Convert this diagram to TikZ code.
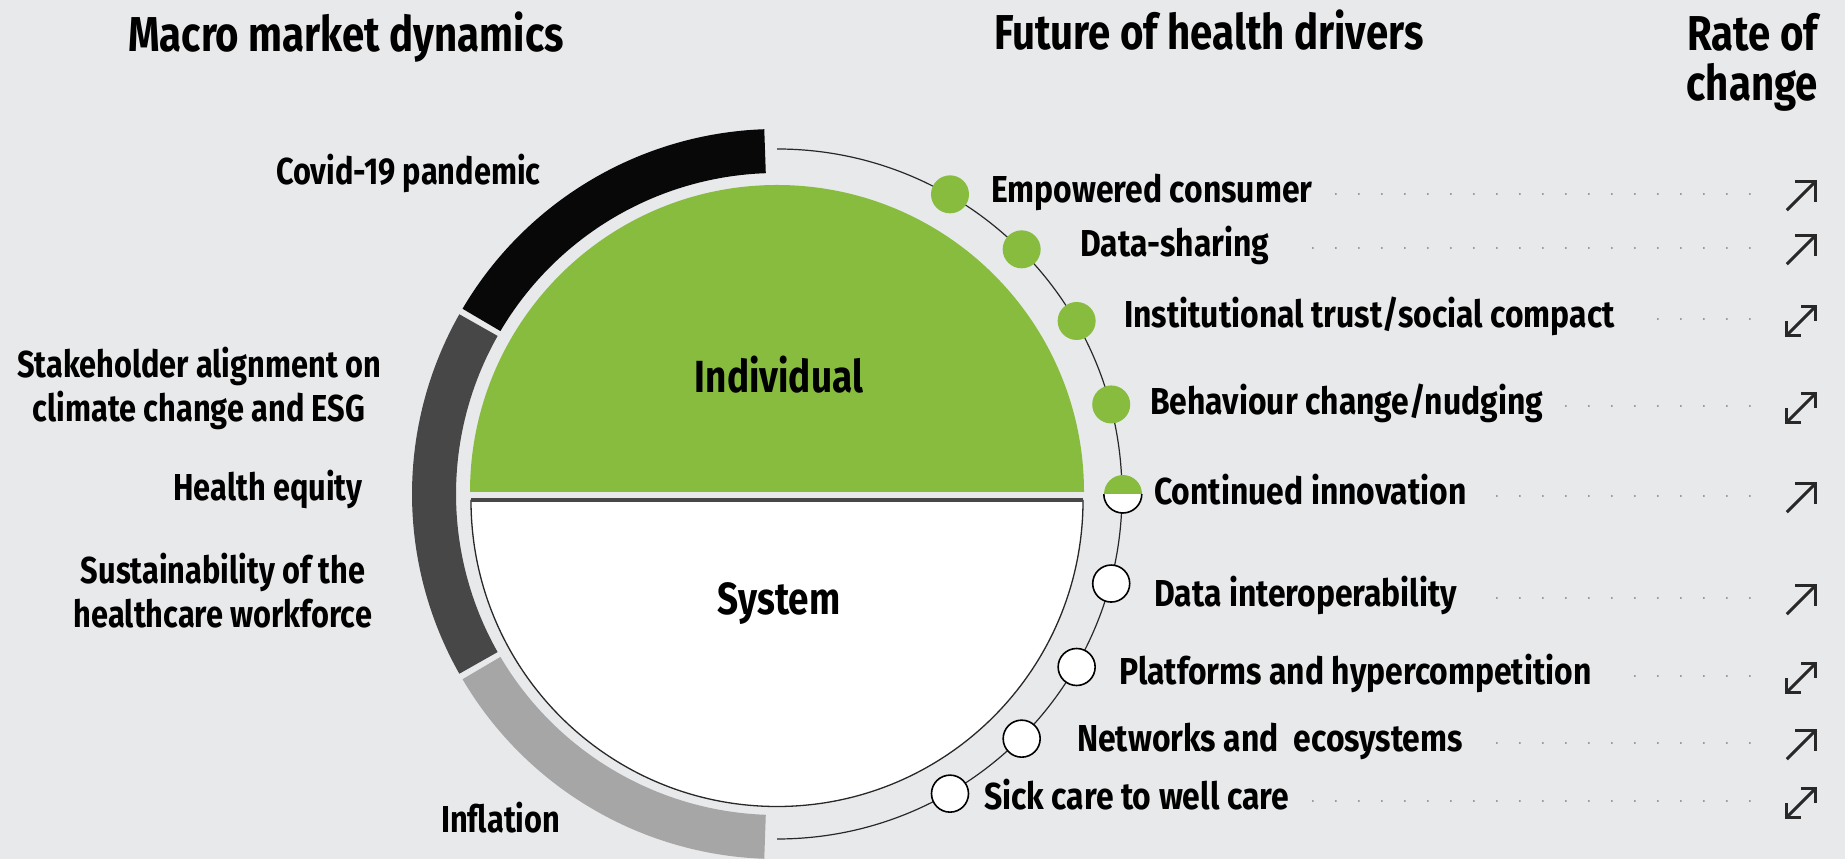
\documentclass[tikz,border=0pt]{standalone}
\usepackage{fontspec}
\setmainfont{Fira Sans}[FakeStretch=0.82]
\newfontfamily\driverfont{Fira Sans}[FakeStretch=0.85]
\usetikzlibrary{calc}
\definecolor{bgpaper}{RGB}{232,233,235}
\definecolor{hgreen}{RGB}{135,188,63}
\definecolor{ringblack}{RGB}{8,8,8}
\definecolor{ringdark}{RGB}{71,71,71}
\definecolor{ringlight}{RGB}{166,166,166}
\definecolor{inkgrey}{RGB}{40,40,40}
\newcommand{\rateup}[1]{%
  \draw[rise] (#1.south west) -- (#1.north east);
  \draw[rise] ([xshift=-20pt]#1.north east) -- (#1.north east) -- ([yshift=-20pt]#1.north east);}
\newcommand{\ratebi}[1]{%
  \draw[rise] (#1.south west) -- (#1.north east);
  \draw[rise] ([xshift=-14pt]#1.north east) -- (#1.north east) -- ([yshift=-14pt]#1.north east);
  \draw[rise] ([xshift=14pt]#1.south west) -- (#1.south west) -- ([yshift=14pt]#1.south west);}

\begin{document}
\begin{tikzpicture}[x=1pt, y=1pt,
    heading/.style = {font=\fontsize{49}{50}\selectfont\bfseries, inner sep=0},
    macro/.style = {font=\fontsize{37.5}{44}\selectfont\bfseries, inner sep=0, align=center},
    driver/.style = {font=\driverfont\fontsize{37.5}{44}\selectfont\bfseries, inner sep=0,
        text height=26pt, text depth=8pt, anchor=base west},
    half/.style = {font=\fontsize{45}{50}\selectfont\bfseries, inner sep=0, anchor=base},
    greendot/.style = {circle, fill=hgreen, minimum size=38pt, inner sep=0},
    whitedot/.style = {circle, fill=white, draw=black, line width=1.6pt, minimum size=37pt, inner sep=0},
    halfdot/.style = {circle, fill=white, minimum size=38pt, inner sep=0,
        path picture={\fill[hgreen] (path picture bounding box.west) rectangle (path picture bounding box.north east);}},
    rate/.style = {minimum size=28pt, inner sep=0},
    leader/.style = {draw=gray, line width=2pt, line cap=round, dash pattern=on 0pt off 23pt},
    rise/.style = {draw=inkgrey, line width=3pt, line join=miter}]

  \path[use as bounding box, fill=bgpaper] (0,0) rectangle (1845,859);
  \coordinate (C) at (777,365);
  \coordinate (G) at (777,367);
  \coordinate (W) at (777,358.5);

  % macro ring
  \fill[ringblack] ($(C)+(92:365pt)$) arc[start angle=92, end angle=149.5, radius=365pt]
    -- ($(C)+(149.5:321pt)$) arc[start angle=149.5, end angle=92, radius=321pt] -- cycle;
  \fill[ringdark] ($(C)+(150.5:365pt)$) arc[start angle=150.5, end angle=209.5, radius=365pt]
    -- ($(C)+(209.5:321pt)$) arc[start angle=209.5, end angle=150.5, radius=321pt] -- cycle;
  \fill[ringlight] ($(C)+(210.5:365pt)$) arc[start angle=210.5, end angle=268, radius=365pt]
    -- ($(C)+(268:321pt)$) arc[start angle=268, end angle=210.5, radius=321pt] -- cycle;

  % pie
  \fill[hgreen] ($(G)+(307pt,0)$) arc[start angle=0, end angle=180, radius=307pt] -- cycle;
  \filldraw[fill=white, draw=inkgrey, line width=1.3pt] ($(W)+(-306pt,0)$)
    arc[start angle=180, end angle=360, radius=306pt] -- cycle;
  \draw[ringdark, line width=4pt] ($(W)+(-306pt,0)$) -- ($(W)+(306pt,0)$);
  \node[half] (indiv) at (779,466) {Individual};
  \node[half] (system) at (779,244) {System};

  \draw[inkgrey, line width=1.2pt] ($(C)+(90:345pt)$) arc[start angle=90, end angle=-90, radius=345pt];

  \node[greendot] (d1) at ($(C)+(60:346pt)$) {};
  \node[greendot] (d2) at ($(C)+(45:346pt)$) {};
  \node[greendot] (d3) at ($(C)+(30:346pt)$) {};
  \node[greendot] (d4) at ($(C)+(15:346pt)$) {};
  \node[halfdot] (d5) at ($(C)+(0:346pt)$) {};
  \draw[black, line width=1.6pt] (d5.west) arc[start angle=180, end angle=360, radius=19pt];
  \node[whitedot] (d6) at ($(C)+(-15:346pt)$) {};
  \node[whitedot] (d7) at ($(C)+(-30:346pt)$) {};
  \node[whitedot] (d8) at ($(C)+(-45:346pt)$) {};
  \node[whitedot] (d9) at ($(C)+(-60:346pt)$) {};

  % headings
  \node[heading, anchor=base west] (macrohead) at (128,807) {Macro market dynamics};
  \node[heading, anchor=base west] (drivershead) at (994,809) {Future of health drivers};
  \node[heading, anchor=north east, align=right] (ratehead) at (1818,846) {Rate of\\change};

  % macro labels
  \node[macro, anchor=base west] (covid) at (276,674) {Covid-19 pandemic};
  \node[macro] (esg) at (199,471) {Stakeholder alignment on\\climate change and ESG};
  \node[macro, anchor=base] (equity) at (268,358) {Health equity};
  \node[macro] (workforce) at (223,268) {Sustainability of the\\healthcare workforce};
  \node[macro, anchor=base west] (inflation) at (441,26) {Inflation};

  % drivers
  \node[driver] (l1) at (991,656) {Empowered consumer};
  \node[driver] (l2) at (1080,602) {Data-sharing};
  \node[driver] (l3) at (1124,531) {Institutional trust/social compact};
  \node[driver] (l4) at (1150,444) {Behaviour change/nudging};
  \node[driver] (l5) at (1154,354) {Continued innovation};
  \node[driver] (l6) at (1154,252) {Data interoperability};
  \node[driver] (l7) at (1119,174) {Platforms and hypercompetition};
  \node[driver] (l8) at (1077,107) {Networks and~ ecosystems};
  \node[driver] (l9) at (984,49) {Sick care to well care};

  % rate of change
  \node[rate] (r1) at (1801,663) {};
  \node[rate] (r2) at (1801,609) {};
  \node[rate] (r3) at (1801,538) {};
  \node[rate] (r4) at (1801,451) {};
  \node[rate] (r5) at (1801,361) {};
  \node[rate] (r6) at (1801,259) {};
  \node[rate] (r7) at (1801,181) {};
  \node[rate] (r8) at (1801,114) {};
  \node[rate] (r9) at (1801,56) {};
  \rateup{r1} \rateup{r2} \ratebi{r3} \ratebi{r4} \rateup{r5}
  \rateup{r6} \ratebi{r7} \rateup{r8} \ratebi{r9}

  \draw[leader] ([xshift=-37pt]r1.west |- l1.east) -- ([xshift=22pt]l1.east);
  \draw[leader] ([xshift=-37pt]r2.west |- l2.east) -- ([xshift=22pt]l2.east);
  \draw[leader] ([xshift=-37pt]r3.west |- l3.east) -- ([xshift=22pt]l3.east);
  \draw[leader] ([xshift=-37pt]r4.west |- l4.east) -- ([xshift=22pt]l4.east);
  \draw[leader] ([xshift=-37pt]r5.west |- l5.east) -- ([xshift=22pt]l5.east);
  \draw[leader] ([xshift=-37pt]r6.west |- l6.east) -- ([xshift=22pt]l6.east);
  \draw[leader] ([xshift=-37pt]r7.west |- l7.east) -- ([xshift=22pt]l7.east);
  \draw[leader] ([xshift=-37pt]r8.west |- l8.east) -- ([xshift=22pt]l8.east);
  \draw[leader] ([xshift=-37pt]r9.west |- l9.east) -- ([xshift=22pt]l9.east);
\end{tikzpicture}
\end{document}
